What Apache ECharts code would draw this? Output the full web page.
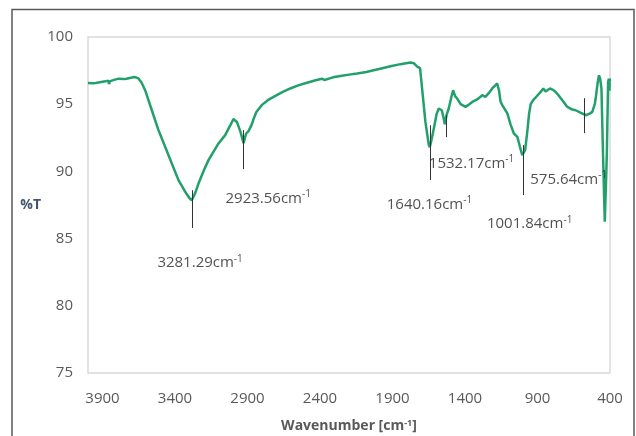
<!DOCTYPE html>
<html>
<head>
<meta charset="utf-8">
<script src="https://cdn.jsdelivr.net/npm/echarts@6/dist/echarts.min.js"></script>
<style>html,body{margin:0;padding:0;background:#fff}#c{width:636px;height:436px}</style>
</head>
<body>
<div id="c"></div>
<script>
// Spectrum: wavenumber (cm-1) and transmittance (%T)
const wavenumber = [4000,3960,3929,3880,3860,3855,3848,3790,3750,3744,3735,3680,3652,3630,3606,3560,3514,3468,3422,3376,3330,3300,3284,3260,3238,3200,3169,3100,3054,3020,2997,2973,2950,2927,2910,2893,2870,2858,2840,2800,2760,2720,2660,2605,2550,2490,2430,2386,2370,2360,2310,2260,2200,2144,2080,2030,1970,1914,1845,1776,1753,1730,1710,1696,1673,1650,1643,1630,1615,1595,1581,1560,1548,1539,1527,1512,1495,1482,1468,1454,1430,1396,1370,1350,1310,1281,1260,1247,1230,1212,1178,1165,1155,1143,1108,1086,1063,1039,1021,1005,998,985,970,958,947,930,913,878,860,844,814,790,775,750,729,694,660,637,600,568,540,522,505,499,485,476,468,459,448,436,428,422,413,408,404,402,400];
const transmittance = [96.58,96.55,96.62,96.7,96.75,96.5,96.72,96.9,96.88,96.75,96.9,97.03,96.92,96.6,96.04,94.55,93.07,91.83,90.59,89.35,88.49,88.0,87.85,88.4,89.1,90.1,90.84,92.08,92.7,93.4,93.9,93.68,93.0,92.1,92.8,93.0,93.5,93.9,94.4,94.95,95.3,95.54,95.9,96.17,96.4,96.6,96.78,96.9,96.8,96.92,97.0,97.1,97.2,97.28,97.4,97.53,97.68,97.82,97.98,98.1,98.05,97.8,97.68,96.17,93.68,92.0,91.8,92.4,93.19,94.3,94.68,94.55,94.0,93.5,94.2,94.68,95.5,96.04,95.6,95.42,95.0,94.8,95.0,95.17,95.4,95.67,95.55,95.54,95.9,96.17,96.54,96.0,95.2,94.93,94.31,93.5,92.82,92.57,91.83,91.2,91.1,91.6,93.0,94.3,95.0,95.3,95.5,95.91,96.17,95.95,96.17,96.05,95.91,95.6,95.3,94.8,94.6,94.55,94.35,94.18,94.3,94.43,95.0,95.42,96.6,97.15,96.9,96.17,91.2,86.26,89.0,91.21,96.65,96.9,96.0,96.9,96.7];

// Peak annotations
const peakNames = ['3281.29','2923.56','1640.16','1532.17','1001.84','575.64'];
const peakWn = [3284,2930,1643,1532,1001,578];
const peakTickTop = [88.6,93.07,93.44,94.18,91.96,95.45];
const peakTickBottom = [85.79,90.17,89.35,92.55,88.24,92.85];
const peakLabelWn = [3227,2757,1645,1355,954,685];
const peakLabelT = [83.2,88.0,87.55,90.6,86.1,89.4];

const xTickLabels = [3900,3400,2900,2400,1900,1400,900,400];
const yTickLabels = [75,80,85,90,95,100];

const chart = echarts.init(document.getElementById('c'), null, {renderer:'canvas'});
const font = 'Open Sans';
const lineData = wavenumber.map((w,i)=>[w, transmittance[i]]);
const tickLines = peakWn.map((w,i)=>[{coord:[w, peakTickTop[i]]},{coord:[w, peakTickBottom[i]]}]);
const labelData = peakNames.map((n,i)=>({name:n, value:[peakLabelWn[i], peakLabelT[i]]}));

chart.setOption({
  animation:false,
  backgroundColor:'#ffffff',
  textStyle:{fontFamily:font},
  graphic:[{type:'rect', shape:{x:12,y:9.5,width:622,height:460}, style:{fill:'none', stroke:'#595959', lineWidth:1.5}, silent:true}],
  grid:{left:88, top:37, width:522, height:336, show:true, borderColor:'#d9d9d9', borderWidth:1.5,
        backgroundColor:'transparent', containLabel:false, outerBoundsMode:'none'},
  xAxis:{
    type:'value', inverse:true, min:400, max:4000, interval:100,
    axisLine:{show:false}, axisTick:{show:false}, splitLine:{show:false},
    axisLabel:{margin:18, color:'#595959', fontSize:15, fontFamily:font,
      showMaxLabel:false, hideOverlap:false,
      formatter:v=> xTickLabels.includes(v) ? String(v) : ''},
    name:'Wavenumber [cm{s|-1}]', nameLocation:'middle', nameGap:46,
    nameTextStyle:{color:'#595959', fontWeight:'bold', fontSize:14, fontFamily:font,
      rich:{s:{fontSize:9, lineHeight:10, verticalAlign:'top', fontWeight:'bold', color:'#595959', fontFamily:font}}}
  },
  yAxis:{
    type:'value', min:75, max:100, interval:5,
    axisLine:{show:false}, axisTick:{show:false}, splitLine:{show:false},
    axisLabel:{margin:15, color:'#595959', fontSize:15, fontFamily:font,
      formatter:v=> yTickLabels.includes(v) ? String(v) : ''},
    name:'%T', nameLocation:'middle', nameGap:47, nameRotate:0,
    nameTextStyle:{color:'#44546a', fontWeight:'bold', fontSize:14, fontFamily:font}
  },
  series:[
    {type:'line', data:lineData, showSymbol:false, symbol:'none', smooth:false,
     lineStyle:{color:'#22a06c', width:2.5}, z:3,
     markLine:{silent:true, symbol:['none','none'], label:{show:false},
       lineStyle:{color:'#333333', width:1, type:'solid'}, data:tickLines}},
    {type:'scatter', data:labelData, symbolSize:0, z:4,
     label:{show:true, position:'inside', color:'#262626', fontFamily:font,
       formatter:p=>'{a|'+p.name+'cm}{s|-1}',
       rich:{a:{fontSize:15, lineHeight:18, color:'#262626', fontFamily:font},
             s:{fontSize:10, lineHeight:10, verticalAlign:'top', color:'#262626', fontFamily:font}}}}
  ]
});
</script>
</body>
</html>
